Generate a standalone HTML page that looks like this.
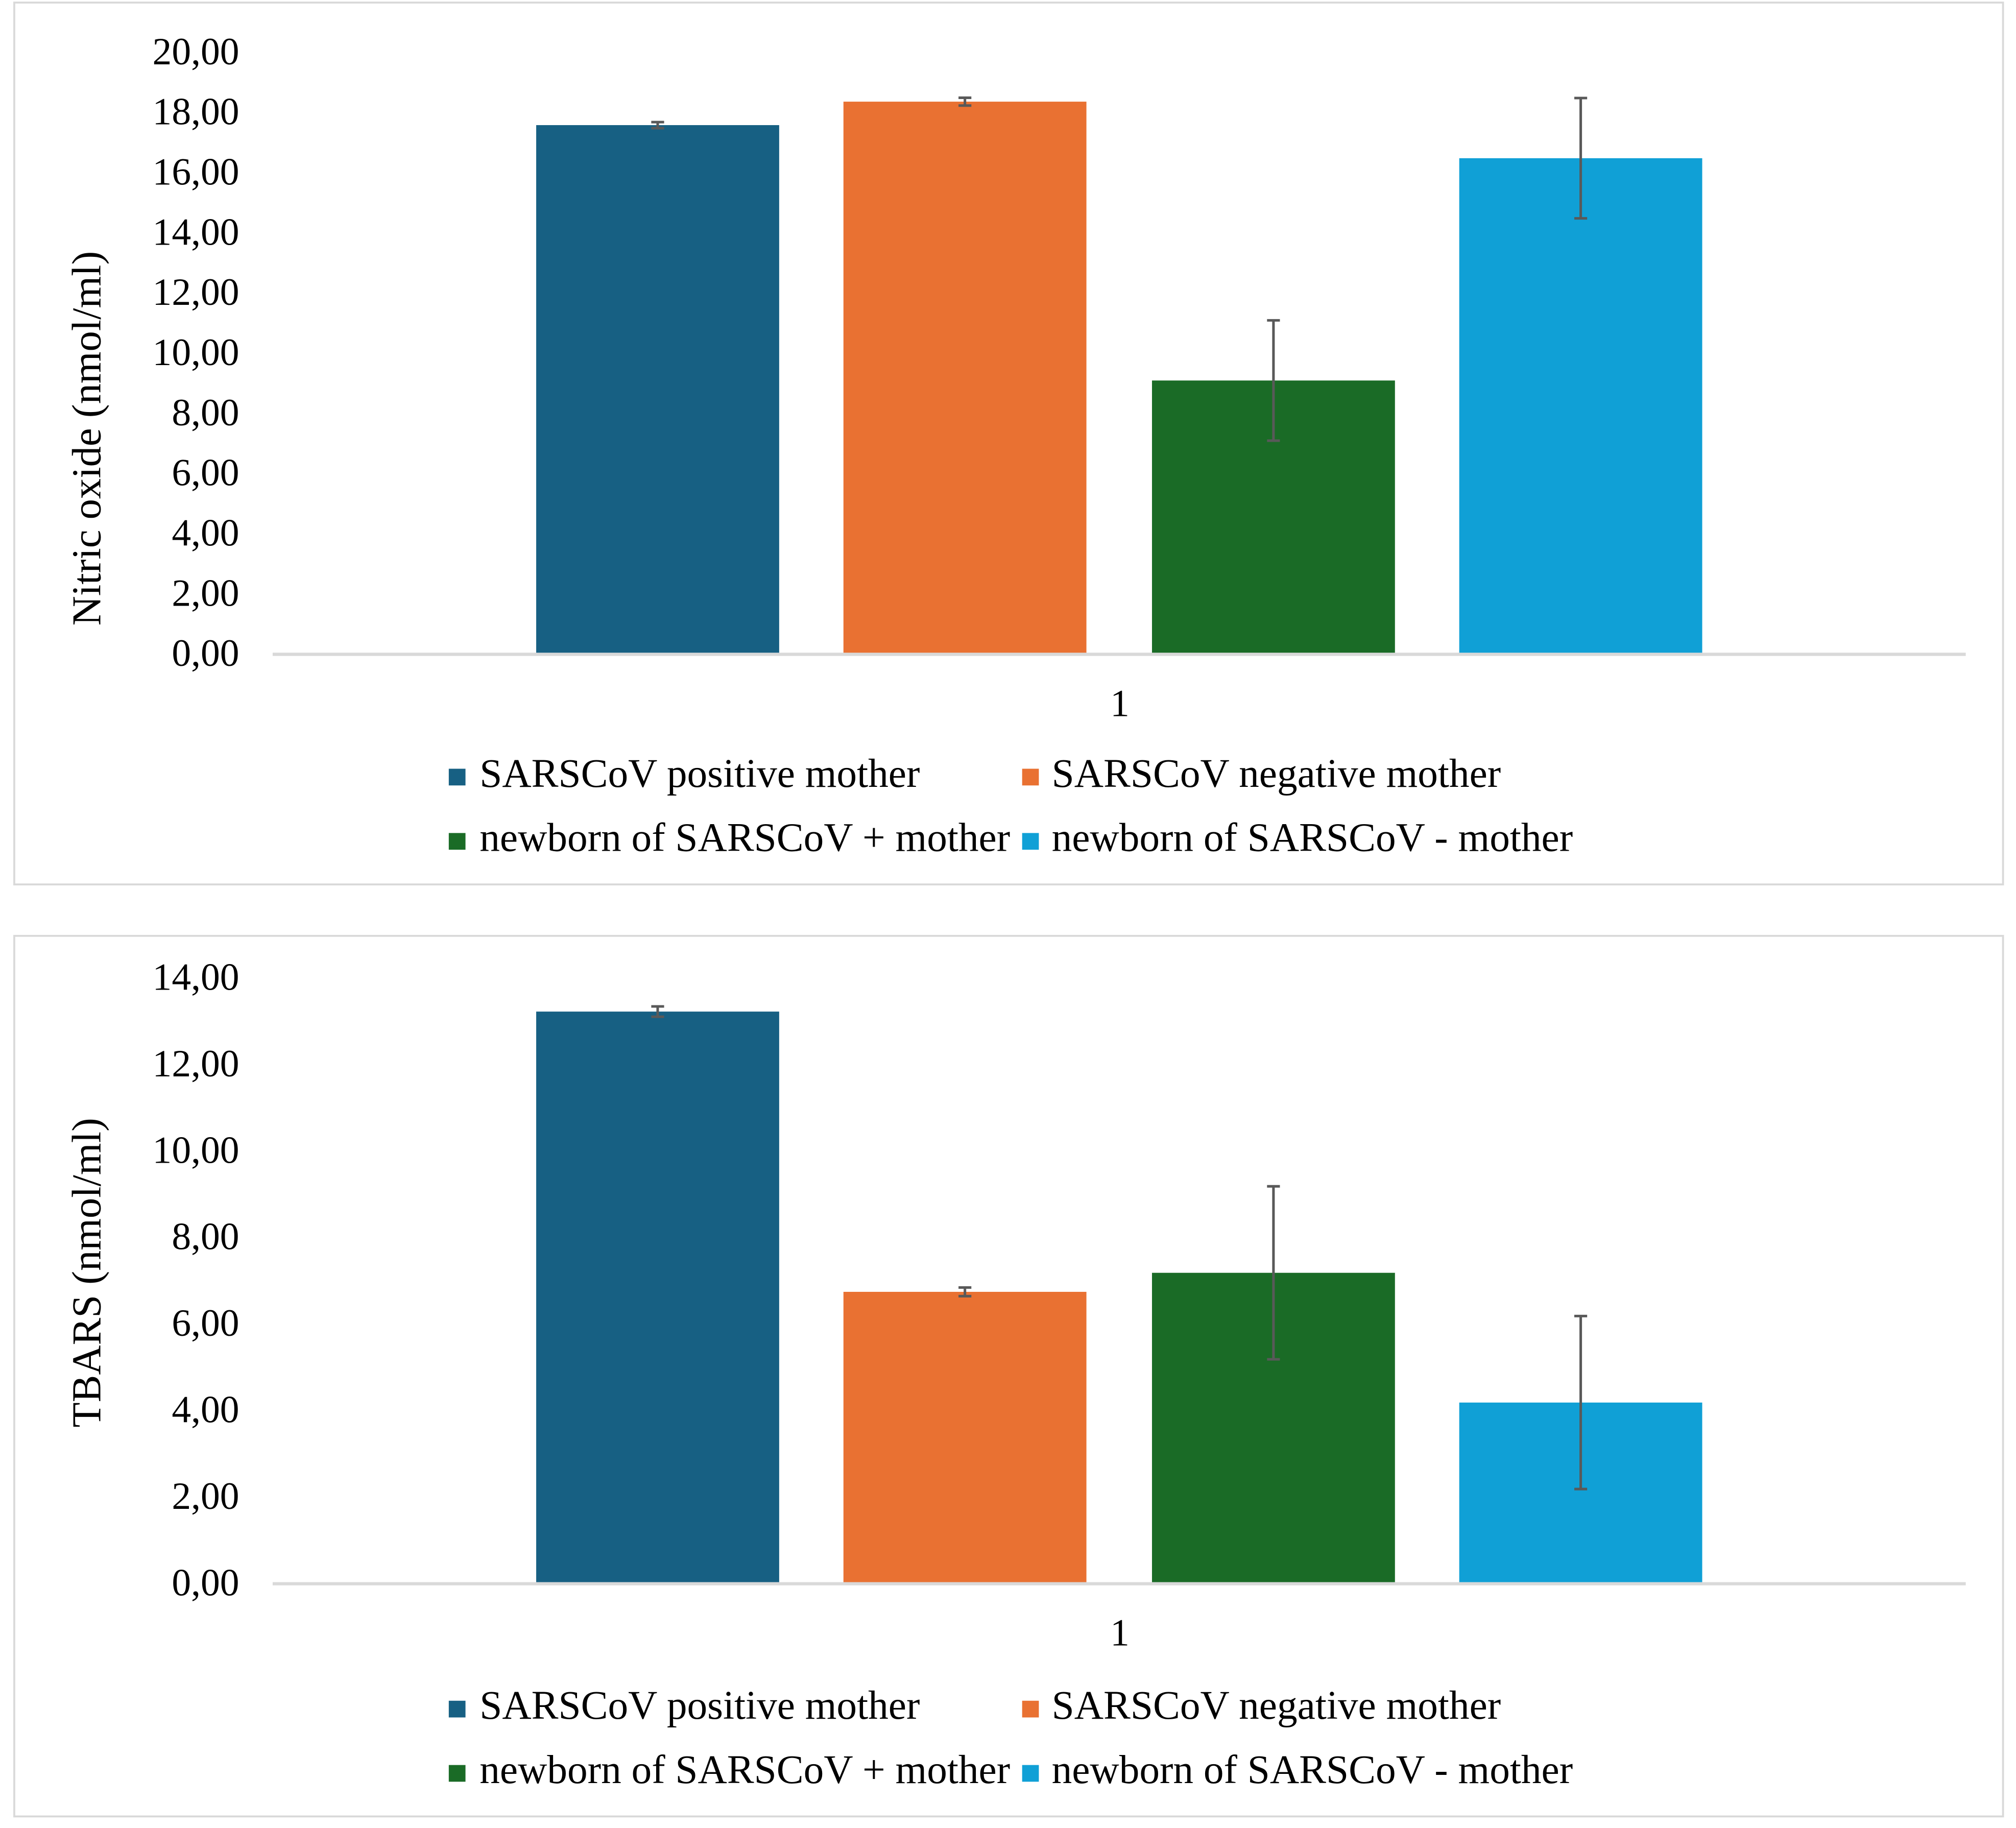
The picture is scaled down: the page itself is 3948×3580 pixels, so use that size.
<!DOCTYPE html>
<html><head><meta charset="utf-8"><style>
html,body{margin:0;padding:0;background:#fff;}
svg{display:block;font-family:"Liberation Serif",serif;}
</style></head><body>
<svg id="c" width="3948" height="3580" viewBox="0 0 1568 1422" xmlns="http://www.w3.org/2000/svg"></svg>
<script>
const categories = ["SARSCoV positive mother","SARSCoV negative mother","newborn of SARSCoV + mother","newborn of SARSCoV - mother"];
const noValues = [17.55, 18.33, 9.06, 16.45];
const noErrors = [0.1, 0.13, 2.0, 2.0];
const noTicks = ["0,00","2,00","4,00","6,00","8,00","10,00","12,00","14,00","16,00","18,00","20,00"];
const tbValues = [13.2, 6.72, 7.16, 4.16];
const tbErrors = [0.12, 0.1, 2.0, 2.0];
const tbTicks = ["0,00","2,00","4,00","6,00","8,00","10,00","12,00","14,00"];
const colors = ["#176083","#e97132","#1a6b26","#10a0d6"];

const svg = document.getElementById('c');
const NS = "http://www.w3.org/2000/svg";
function mk(tag, attrs, parent){const e=document.createElementNS(NS,tag);for(const k in attrs)e.setAttribute(k,attrs[k]);(parent||svg).appendChild(e);return e;}

function panel(cfg){
  const g = mk('g',{});
  
  
  const fr = mk('rect',{x:11,y:cfg.fy,width:1547,height:cfg.fh,fill:'none',stroke:'#d9d9d9','stroke-width':1.5},g);
  
  
  const maxV = (cfg.ticks.length-1)*2;
  const y = v => cfg.y0 - (cfg.y0-cfg.yTop)*v/maxV;
  cfg.ticks.forEach((t,i)=>{
    const tx = mk('text',{x:186,y:y(i*2)+10,'text-anchor':'end','font-size':30,fill:'#000'},g);
    tx.textContent = t;
    
    
  });
  const barX = [417,656,896,1135], bw = 189;
  cfg.values.forEach((v,i)=>{
    const r = mk('rect',{x:barX[i],y:y(v),width:bw,height:cfg.y0-y(v),fill:colors[i]},g);
    
    
  });
  const ax = mk('line',{x1:212,x2:1529,y1:cfg.y0+1,y2:cfg.y0+1,stroke:'#d9d9d9','stroke-width':2.5},g);
  
  
  cfg.values.forEach((v,i)=>{
    const cx = barX[i]+bw/2, e = cfg.errors[i];
    const eg = mk('g',{stroke:'#595959','stroke-width':2},g);
    
    
    mk('line',{x1:cx,x2:cx,y1:y(v+e),y2:y(v-e)},eg);
    mk('line',{x1:cx-5,x2:cx+5,y1:y(v+e),y2:y(v+e)},eg);
    mk('line',{x1:cx-5,x2:cx+5,y1:y(v-e),y2:y(v-e)},eg);
  });
  const cat = mk('text',{x:871,y:cfg.y0+49,'text-anchor':'middle','font-size':30},g);
  cat.textContent='1';
  
  
  const yt = mk('text',{transform:`translate(78,${cfg.titleY}) rotate(-90)`,'text-anchor':'middle','font-size':32},g);
  yt.textContent = cfg.title;
  
  
  const lx = [[349,373],[795,818],[349,373],[795,818]];
  categories.forEach((c,i)=>{
    const ry = i<2 ? cfg.leg1 : cfg.leg2;
    const lg = mk('g',{},g);
    
    
    mk('rect',{x:lx[i][0],y:ry-14,width:13,height:13,fill:colors[i]},lg);
    const t = mk('text',{x:lx[i][1],y:ry,'font-size':31.5},lg);
    t.textContent = c;
  });
}
panel({name:'nitric-oxide-chart',fy:2,fh:686,y0:508,yTop:40,ticks:noTicks,values:noValues,errors:noErrors,title:'Nitric oxide (nmol/ml)',titleY:341,leg1:612,leg2:662});
panel({name:'tbars-chart',fy:728,fh:685,y0:1231,yTop:760,ticks:tbTicks,values:tbValues,errors:tbErrors,title:'TBARS (nmol/ml)',titleY:990,leg1:1337,leg2:1387});
</script>
</body></html>
